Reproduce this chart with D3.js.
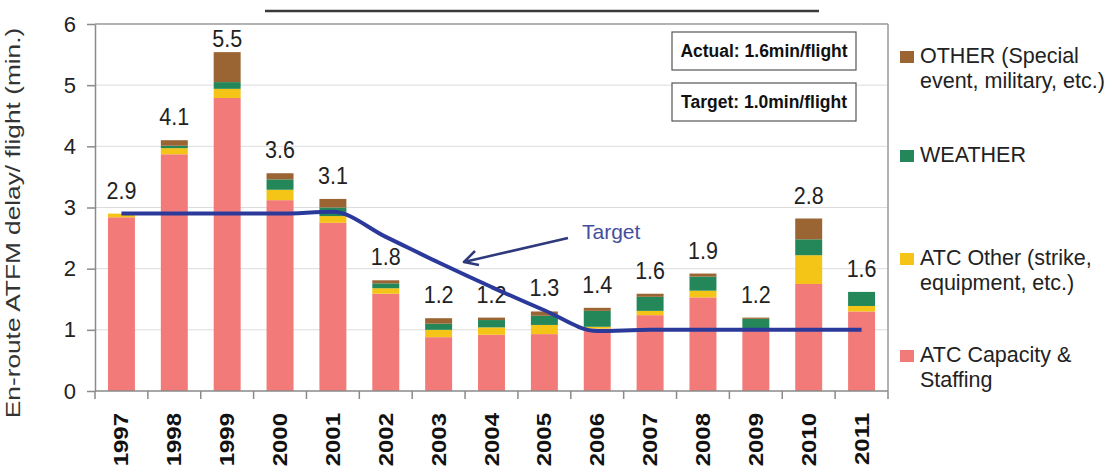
<!DOCTYPE html>
<html>
<head>
<meta charset="utf-8">
<script src="https://cdn.jsdelivr.net/npm/d3@7"></script>
<style>
  body { margin: 0; background: #fff; }
  svg { font-family: "Liberation Sans", Arial, sans-serif; }
</style>
</head>
<body>
<svg id="chart" width="1112" height="476"></svg>
<script>
// years and delay breakdown (min/flight)
var years = ['1997', '1998', '1999', '2000', '2001', '2002', '2003', '2004', '2005', '2006', '2007', '2008', '2009', '2010', '2011'];
var capacity = [2.84, 3.87, 4.79, 3.12, 2.75, 1.59, 0.88, 0.92, 0.93, 1.02, 1.24, 1.53, 1.02, 1.75, 1.30];
var atcOther = [0.06, 0.10, 0.15, 0.17, 0.11, 0.09, 0.12, 0.12, 0.15, 0.03, 0.07, 0.11, 0.01, 0.47, 0.09];
var weather  = [0.00, 0.04, 0.11, 0.17, 0.14, 0.08, 0.10, 0.12, 0.15, 0.26, 0.23, 0.23, 0.15, 0.26, 0.23];
var other    = [0.00, 0.09, 0.49, 0.10, 0.14, 0.05, 0.09, 0.04, 0.07, 0.05, 0.05, 0.05, 0.02, 0.34, 0.00];
var target   = [2.9, 2.9, 2.9, 2.9, 2.93, 2.52, 2.1, 1.7, 1.32, 0.98, 1.0, 1.0, 1.0, 1.0, 1.0];
var yTicks = [0, 1, 2, 3, 4, 5, 6];

var seriesKeys = ['capacity', 'atcOther', 'weather', 'other'];
var colors = { capacity: '#f27b79', atcOther: '#f4c417', weather: '#24875a', other: '#9a6433' };

var legendItems = [
  { key: 'other', lines: ['OTHER (Special', 'event, military, etc.)'], y: 63 },
  { key: 'weather', lines: ['WEATHER'], y: 162 },
  { key: 'atcOther', lines: ['ATC Other (strike,', 'equipment, etc.)'], y: 265 },
  { key: 'capacity', lines: ['ATC Capacity &', 'Staffing'], y: 362 }
];

var rows = years.map(function (yr, i) {
  return { year: yr, capacity: capacity[i], atcOther: atcOther[i], weather: weather[i], other: other[i] };
});

var svg = d3.select('#chart');
var plotL = 95, plotR = 888, plotT = 24, plotB = 391;

var x = d3.scaleBand().domain(years).range([plotL, plotR]).paddingInner(0.49).paddingOuter(0.245);
var y = d3.scaleLinear().domain([0, 6]).range([plotB, plotT]);

// decorative line at the top (cut-off title)
svg.append('line').attr('x1', 265).attr('x2', 819).attr('y1', 11).attr('y2', 11)
  .attr('stroke', '#3a3a3a').attr('stroke-width', 2.5);

// gridlines
svg.append('g').selectAll('line').data(yTicks.filter(function (t) { return t > 0 && t < 6; }))
  .enter().append('line')
  .attr('x1', plotL).attr('x2', plotR)
  .attr('y1', function (d) { return y(d); }).attr('y2', function (d) { return y(d); })
  .attr('stroke', '#dcdcdc').attr('stroke-width', 1);

// frame top + right
svg.append('line').attr('x1', plotL).attr('x2', plotR).attr('y1', plotT).attr('y2', plotT)
  .attr('stroke', '#9a9a9a').attr('stroke-width', 1.5);
svg.append('line').attr('x1', plotR).attr('x2', plotR).attr('y1', plotT).attr('y2', plotB)
  .attr('stroke', '#9a9a9a').attr('stroke-width', 1.5);

// stacked bars
var stack = d3.stack().keys(seriesKeys)(rows);
svg.append('g').selectAll('g').data(stack).enter().append('g')
  .attr('fill', function (d) { return colors[d.key]; })
  .selectAll('rect').data(function (d) { return d; }).enter().append('rect')
  .attr('x', function (d) { return x(d.data.year); })
  .attr('width', x.bandwidth())
  .attr('y', function (d) { return y(d[1]); })
  .attr('height', function (d) { return y(d[0]) - y(d[1]); });

// total labels
var fmt = d3.format('.1f');
function total(d) { return d.capacity + d.atcOther + d.weather + d.other; }
svg.append('g').selectAll('text').data(rows).enter().append('text')
  .attr('transform', function (d) {
    return 'translate(' + (x(d.year) + x.bandwidth() / 2) + ',' + Math.max(y(total(d)) - 15, 47) + ') scale(1,1.1)';
  })
  .attr('text-anchor', 'middle').attr('font-size', 21.5).attr('fill', '#222')
  .text(function (d) { return fmt(total(d)); });

// target line
var line = d3.line()
  .x(function (d, i) { return x(years[i]) + x.bandwidth() / 2; })
  .y(function (d) { return y(d); })
  .curve(d3.curveMonotoneX);
svg.append('path').datum(target).attr('d', line)
  .attr('fill', 'none').attr('stroke', '#2b3a9a').attr('stroke-width', 4)
  .attr('stroke-linejoin', 'round');

// y axis
var yAxis = svg.append('g').attr('transform', 'translate(' + plotL + ',0)')
  .call(d3.axisLeft(y).tickValues(yTicks).tickFormat(d3.format('d')).tickSize(8).tickPadding(11).tickSizeOuter(0));
yAxis.select('.domain').attr('stroke', '#8a8a8a').attr('stroke-width', 1.5);
yAxis.selectAll('.tick line').attr('stroke', '#8a8a8a').attr('stroke-width', 1.5);
yAxis.selectAll('.tick text').attr('font-size', 22).attr('fill', '#222')
  .attr('font-family', '"Liberation Sans", Arial, sans-serif');

// x axis: baseline + ticks at band edges
svg.append('line').attr('x1', plotL).attr('x2', plotR).attr('y1', plotB).attr('y2', plotB)
  .attr('stroke', '#8a8a8a').attr('stroke-width', 1.5);
var edges = years.map(function (yr) { return x(yr) - x.step() * x.paddingInner() / 2; }).concat([plotR]);
svg.append('g').selectAll('line').data(edges).enter().append('line')
  .attr('x1', function (d) { return d; }).attr('x2', function (d) { return d; })
  .attr('y1', plotB).attr('y2', plotB + 8)
  .attr('stroke', '#8a8a8a').attr('stroke-width', 1.5);

svg.append('g').selectAll('text').data(years).enter().append('text')
  .attr('transform', function (d) {
    return 'translate(' + (x(d) + x.bandwidth() / 2 + 7) + ',413) rotate(-90) scale(1.2,1)';
  })
  .attr('text-anchor', 'end').attr('font-size', 20).attr('font-weight', 'bold').attr('fill', '#111')
  .text(function (d) { return d; });

// y axis title
svg.append('text')
  .attr('transform', 'translate(20,223) rotate(-90) scale(1.25,1)')
  .attr('text-anchor', 'middle').attr('font-size', 21).attr('fill', '#333')
  .text('En-route ATFM delay/ flight (min.)');

// annotation boxes
var boxes = [
  { text: 'Actual: 1.6min/flight', y: 32 },
  { text: 'Target: 1.0min/flight', y: 83 }
];
boxes.forEach(function (b) {
  svg.append('rect').attr('x', 672).attr('y', b.y).attr('width', 184).attr('height', 38)
    .attr('fill', '#fff').attr('stroke', '#555').attr('stroke-width', 1.2);
  svg.append('text').attr('x', 764).attr('y', b.y + 25).attr('text-anchor', 'middle')
    .attr('font-size', 17.5).attr('font-weight', 'bold').attr('fill', '#111').text(b.text);
});

// Target arrow annotation
svg.append('line').attr('x1', 568).attr('y1', 238).attr('x2', 464).attr('y2', 262)
  .attr('stroke', '#2e3a7c').attr('stroke-width', 2.5);
svg.append('path').attr('d', 'M475,251 L464,262 L479,265')
  .attr('fill', 'none').attr('stroke', '#2e3a7c').attr('stroke-width', 2.5).attr('stroke-linejoin', 'round');
svg.append('text').attr('x', 582).attr('y', 239).attr('font-size', 21).attr('fill', '#45509c').text('Target');

// legend
var lg = svg.append('g');
legendItems.forEach(function (it) {
  lg.append('rect').attr('x', 900).attr('y', it.y - 12).attr('width', 14).attr('height', 12)
    .attr('fill', colors[it.key]);
  it.lines.forEach(function (ln, j) {
    lg.append('text').attr('x', 920).attr('y', it.y + j * 25).attr('font-size', 21.5).attr('fill', '#222').text(ln);
  });
});
</script>
</body>
</html>
